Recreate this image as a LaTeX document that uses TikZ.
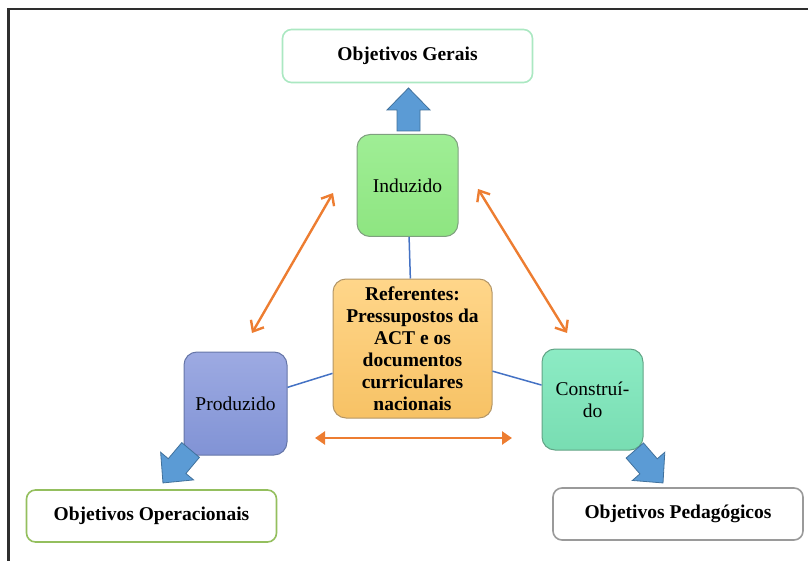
\documentclass[tikz,border=0pt]{standalone}
\usepackage{fontspec}
\setmainfont{Liberation Serif}
\usetikzlibrary{arrows.meta}

\definecolor{frameline}{HTML}{2E2E2E}
\definecolor{orangearr}{HTML}{ED7D31}
\definecolor{bluefill}{HTML}{5B9BD5}
\definecolor{blueedge}{HTML}{41719C}
\definecolor{linkblue}{HTML}{4472C4}
\definecolor{indtop}{HTML}{9FEE95}
\definecolor{indbot}{HTML}{8EE581}
\definecolor{indedge}{HTML}{7FA07F}
\definecolor{reftop}{HTML}{FFD68A}
\definecolor{refbot}{HTML}{F7C265}
\definecolor{refedge}{HTML}{B39667}
\definecolor{protop}{HTML}{9DAAE2}
\definecolor{probot}{HTML}{8193D5}
\definecolor{proedge}{HTML}{6676A8}
\definecolor{contop}{HTML}{8CEBC4}
\definecolor{conbot}{HTML}{78DDB2}
\definecolor{conedge}{HTML}{62A486}
\definecolor{geraisedge}{HTML}{ABE8C2}
\definecolor{operedge}{HTML}{94BF5E}
\definecolor{pededge}{HTML}{9A9A9A}

\tikzset{
  goalbox/.style={draw, line width=1.6pt, rounded corners=9pt, fill=white,
    minimum width=250pt, minimum height=53pt, inner sep=0pt,
    font=\fontsize{19.5}{22}\selectfont\bfseries},
  corebox/.style={draw, line width=1pt, rounded corners=13pt,
    minimum width=101pt, minimum height=102pt, inner sep=2pt,
    font=\fontsize{19.5}{22}\selectfont, align=center},
  twoway/.style={draw=orangearr, line width=2.4pt,
    {Straight Barb[length=9pt,width=15pt,line width=2.4pt]}-{Straight Barb[length=9pt,width=15pt,line width=2.4pt]}},
  flatway/.style={draw=orangearr, line width=2.6pt,
    {Triangle[length=10pt,width=13pt]}-{Triangle[length=10pt,width=13pt]}},
  link/.style={draw=linkblue, line width=1.5pt},
  blockarrow/.pic={
    \draw[fill=bluefill, draw=blueedge, line width=0.8pt, line join=miter]
      (0,-11.5) -- (21,-11.5) -- (21,-21.5) -- (43,0) -- (21,21.5)
      -- (21,11.5) -- (0,11.5) -- cycle;
  }
}

\begin{document}
\begin{tikzpicture}[x=1pt, y=-1pt]
\useasboundingbox (0,0) rectangle (808,561);

% outer frame (only the top and left sides are inside the page)
\draw[frameline, line width=2.5pt] (8.5,561) -- (8.5,9) -- (808,9);

% central and corner boxes
\node[corebox, draw=refedge, top color=reftop, bottom color=refbot,
      minimum width=159pt, minimum height=139pt,
      font=\fontsize{19.5}{22}\selectfont\bfseries]
  (ref) at (412.5,348.5) {Referentes:\\Pressupostos da\\ACT e os\\documentos\\curriculares\\nacionais};
\node[corebox, draw=indedge, top color=indtop, bottom color=indbot]
  (ind) at (407.5,185.5) {Induzido};
\node[corebox, draw=proedge, top color=protop, bottom color=probot,
      minimum height=103pt, minimum width=103pt]
  (pro) at (235.5,403.5) {Produzido};
\node[corebox, draw=conedge, top color=contop, bottom color=conbot,
      minimum height=101pt]
  (con) at (592.5,399.5) {Construí-\\do};

% links from the centre box to the three corner boxes
\draw[link] (ref) -- (ind);
\draw[link] (ref) -- (pro);
\draw[link] (ref) -- (con);

% goal boxes
\node[goalbox, draw=geraisedge] (gerais) at (407.5,56) {Objetivos Gerais};
\node[goalbox, draw=operedge, minimum height=52pt] (oper) at (151.5,516) {Objetivos Operacionais};
\node[goalbox, draw=pededge, minimum height=52pt] (ped) at (678,514) {Objetivos Pedagógicos};

% block arrows from the corner boxes to their goals
\coordinate (upTail) at (408.5,131);
\coordinate (llTail) at (190.6,450);
\coordinate (lrTail) at (634.8,450.5);
\pic[rotate=90] at (upTail) {blockarrow};
\pic[rotate=230] at (llTail) {blockarrow};
\pic[rotate=-49] at (lrTail) {blockarrow};

% two-way orange arrows between the corner boxes
\coordinate (lA) at (252,333);
\coordinate (lB) at (333,193);
\coordinate (rA) at (478,189);
\coordinate (rB) at (567,333);
\coordinate (bA) at (315,438);
\coordinate (bB) at (512,438);
\draw[twoway] (lA) -- (lB);
\draw[twoway] (rA) -- (rB);
\draw[flatway] (bA) -- (bB);
\end{tikzpicture}
\end{document}
